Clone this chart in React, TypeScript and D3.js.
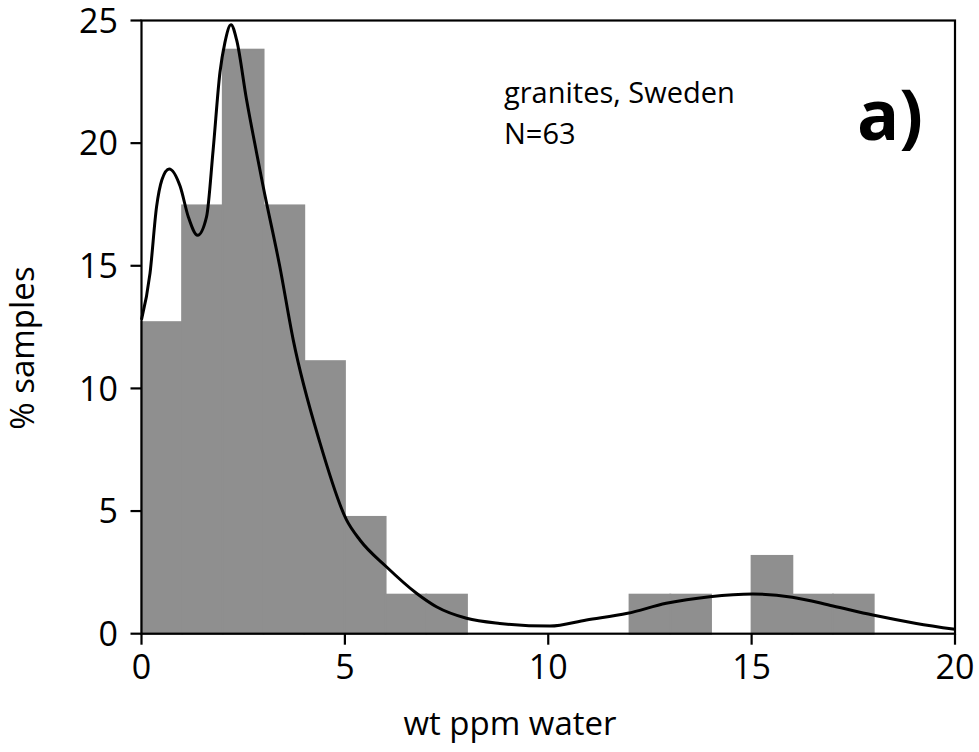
import React from "react";
import * as d3 from "d3";

// Histogram bins: [start, end) in wt ppm, height in % of samples
const binStarts = [0, 1, 2, 3, 4, 5, 6, 7, 12, 13, 15, 16, 17];
const binEnds = [1, 2, 3, 4, 5, 6, 7, 8, 13, 14, 16, 17, 18];
const binPercents = [12.7, 17.46, 23.81, 17.46, 11.11, 4.76, 1.59, 1.59, 1.59, 1.59, 3.17, 1.59, 1.59];

// Smoothed density curve
const curveX = [0, 0.21, 0.37, 0.5, 0.68, 0.95, 1.15, 1.38, 1.6, 1.76, 1.93, 2.05, 2.2, 2.34, 2.58, 2.83, 2.99, 3.4, 3.73, 4.39, 5.04, 5.37, 6.02, 6.76, 7.25, 7.99, 8.81, 10.04, 10.94, 11.95, 12.9, 13.97, 15.03, 16.0, 17.0, 17.98, 19.05, 20];
const curveY = [12.8, 14.7, 17.4, 18.5, 18.95, 18.24, 17.0, 16.24, 17.0, 19.7, 22.9, 24.1, 24.83, 24.2, 21.8, 19.6, 18.24, 14.97, 11.98, 7.77, 4.64, 3.82, 2.73, 1.65, 1.1, 0.63, 0.42, 0.31, 0.56, 0.83, 1.24, 1.51, 1.62, 1.49, 1.13, 0.76, 0.42, 0.18];

const xTicks = [0, 5, 10, 15, 20];
const yTicks = [0, 5, 10, 15, 20, 25];

const W = 979;
const H = 752;
const left = 141.5;
const right = 955;
const top = 20.5;
const bottom = 633.7;
const font = "'Open Sans', sans-serif";

export default function App() {
  const x = d3.scaleLinear().domain([0, 20]).range([left, right]);
  const y = d3.scaleLinear().domain([0, 25]).range([bottom, top]);

  const line = d3
    .line<number>()
    .x((_, i) => x(curveX[i]))
    .y((d) => y(d))
    .curve(d3.curveMonotoneX);

  return (
    <svg
      width={W}
      height={H}
      style={{ position: "absolute", left: 0, top: 0, background: "#fff" }}
    >
      {/* bars */}
      {binPercents.map((p, i) => (
        <rect
          key={i}
          x={x(binStarts[i])}
          y={y(p)}
          width={x(binEnds[i]) - x(binStarts[i])}
          height={y(0) - y(p)}
          fill="#8f8f8f"
          stroke="#8f8f8f"
          strokeWidth={2}
        />
      ))}

      {/* frame */}
      <rect
        x={left}
        y={top}
        width={right - left}
        height={bottom - top}
        fill="none"
        stroke="#000"
        strokeWidth={2.2}
      />

      {/* y ticks */}
      {yTicks.map((t) => (
        <g key={"y" + t}>
          <line x1={left - 11} x2={left} y1={y(t)} y2={y(t)} stroke="#000" strokeWidth={2.2} />
          <text
            x={118}
            y={y(t)}
            dy="0.36em"
            textAnchor="end"
            fontFamily={font}
            fontSize={34}
            fill="#000"
          >
            {t}
          </text>
        </g>
      ))}

      {/* x ticks */}
      {xTicks.map((t) => (
        <g key={"x" + t}>
          <line x1={x(t)} x2={x(t)} y1={bottom} y2={bottom + 11} stroke="#000" strokeWidth={2.2} />
          <text
            x={x(t)}
            y={667}
            dy="0.36em"
            textAnchor="middle"
            fontFamily={font}
            fontSize={34}
            fill="#000"
          >
            {t}
          </text>
        </g>
      ))}

      {/* density curve */}
      <path d={line(curveY) || ""} fill="none" stroke="#000" strokeWidth={3} />

      {/* axis titles */}
      <text
        x={510}
        y={735}
        textAnchor="middle"
        fontFamily={font}
        fontSize={33}
        fill="#000"
      >
        wt ppm water
      </text>
      <text
        transform="translate(34,348) rotate(-90)"
        textAnchor="middle"
        fontFamily={font}
        fontSize={33}
        fill="#000"
      >
        % samples
      </text>

      {/* annotations */}
      <text x={504} y={103} fontFamily={font} fontSize={29} fill="#000">
        granites, Sweden
      </text>
      <text x={504} y={144} fontFamily={font} fontSize={29} fill="#000">
        N=63
      </text>
      <text
        x={923}
        y={140}
        textAnchor="end"
        fontFamily={font}
        fontSize={70}
        fontWeight="bold"
        fill="#000"
      >
        a)
      </text>
    </svg>
  );
}
